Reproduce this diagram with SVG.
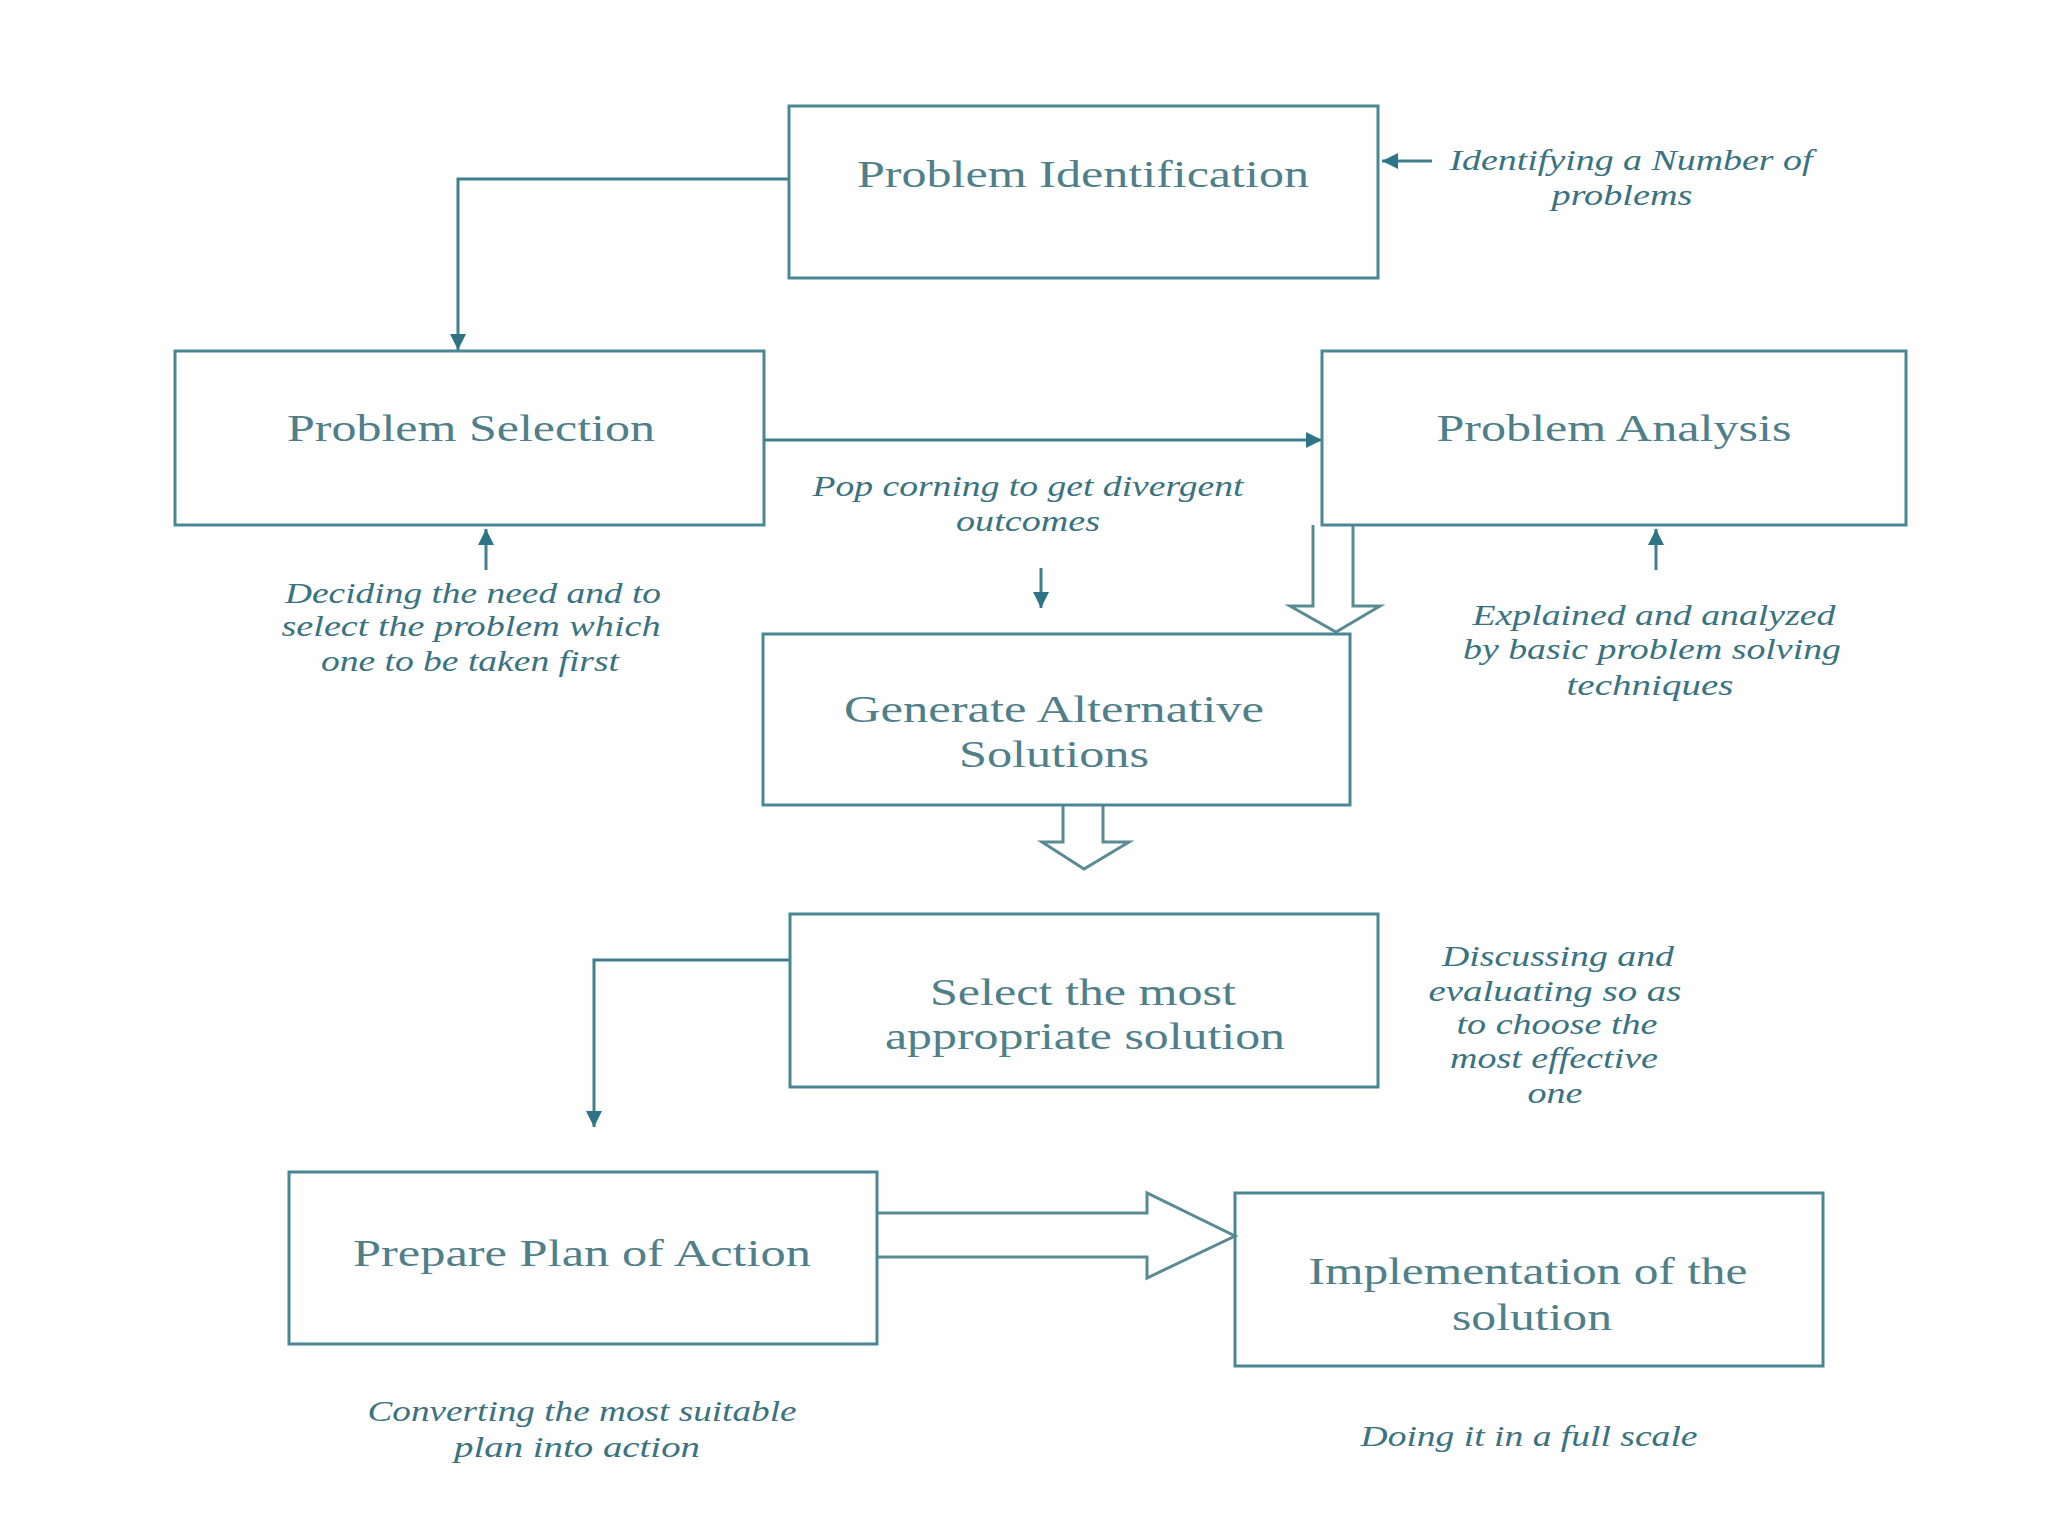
<svg xmlns="http://www.w3.org/2000/svg" width="2048" height="1536" viewBox="0 0 2048 1536">
<style>
.box{fill:none;stroke:#4a8794;stroke-width:3}
.ln{fill:none;stroke:#3f7f8e;stroke-width:3}
.blk{fill:#ffffff;stroke:#5a8b94;stroke-width:3;stroke-linejoin:miter}
.t{font-family:"Liberation Serif","Times New Roman",serif;font-size:38px;fill:#4f7f89;text-anchor:middle}
.l{font-family:"Liberation Serif","Times New Roman",serif;font-style:italic;font-size:29px;fill:#3a7380;text-anchor:middle}
</style>
<defs>
<marker id="ah" markerUnits="userSpaceOnUse" markerWidth="18" markerHeight="16" refX="16" refY="8" orient="auto">
<path d="M0,0 L16,8 L0,16 Z" fill="#2f7486"/>
</marker>
</defs>
<rect width="2048" height="1536" fill="#fefefe"/>
<g id="connectors">
<path class="ln" d="M789,179 H458 V350" marker-end="url(#ah)"/>
<path class="ln" d="M764,440 H1322" marker-end="url(#ah)"/>
<path class="ln" d="M1432,161 H1382" marker-end="url(#ah)"/>
<path class="ln" d="M486,570 V529" marker-end="url(#ah)"/>
<path class="ln" d="M1041,568 V608" marker-end="url(#ah)"/>
<path class="ln" d="M1656,570 V529" marker-end="url(#ah)"/>
<path class="ln" d="M790,960 H594 V1127" marker-end="url(#ah)"/>
<path class="blk" d="M1313,525 V606 H1290 L1336,632 L1380,606 H1353 V525"/>
<path class="blk" d="M1063,805 V842 H1042 L1084,869 L1129,842 H1103 V805"/>
<path class="blk" d="M877,1213 H1147 V1193 L1235,1236 L1147,1278 V1257 H877"/>
</g>
<g id="n1"><rect class="box" x="789" y="106" width="589" height="172"/><text class="t" x="1083" y="187" textLength="452" lengthAdjust="spacingAndGlyphs">Problem Identification</text></g>
<g id="n2"><rect class="box" x="175" y="351" width="589" height="174"/><text class="t" x="471" y="441" textLength="368" lengthAdjust="spacingAndGlyphs">Problem Selection</text></g>
<g id="n3"><rect class="box" x="1322" y="351" width="584" height="174"/><text class="t" x="1614" y="441" textLength="355" lengthAdjust="spacingAndGlyphs">Problem Analysis</text></g>
<g id="n4"><rect class="box" x="763" y="634" width="587" height="171"/><text class="t" x="1054" y="722" textLength="420" lengthAdjust="spacingAndGlyphs">Generate Alternative</text><text class="t" x="1054" y="767" textLength="190" lengthAdjust="spacingAndGlyphs">Solutions</text></g>
<g id="n5"><rect class="box" x="790" y="914" width="588" height="173"/><text class="t" x="1083" y="1005" textLength="306" lengthAdjust="spacingAndGlyphs">Select the most</text><text class="t" x="1085" y="1049" textLength="400" lengthAdjust="spacingAndGlyphs">appropriate solution</text></g>
<g id="n6"><rect class="box" x="289" y="1172" width="588" height="172"/><text class="t" x="582" y="1266" textLength="458" lengthAdjust="spacingAndGlyphs">Prepare Plan of Action</text></g>
<g id="n7"><rect class="box" x="1235" y="1193" width="588" height="173"/><text class="t" x="1528" y="1284" textLength="439" lengthAdjust="spacingAndGlyphs">Implementation of the</text><text class="t" x="1532" y="1330" textLength="160" lengthAdjust="spacingAndGlyphs">solution</text></g>
<g id="labels">
<text class="l" x="1631" y="170" textLength="363" lengthAdjust="spacingAndGlyphs">Identifying a Number of</text>
<text class="l" x="1622" y="205" textLength="141" lengthAdjust="spacingAndGlyphs">problems</text>
<text class="l" x="1028" y="496" textLength="431" lengthAdjust="spacingAndGlyphs">Pop corning to get divergent</text>
<text class="l" x="1028" y="531" textLength="144" lengthAdjust="spacingAndGlyphs">outcomes</text>
<text class="l" x="473" y="603" textLength="376" lengthAdjust="spacingAndGlyphs">Deciding the need and to</text>
<text class="l" x="471" y="636" textLength="379" lengthAdjust="spacingAndGlyphs">select the problem which</text>
<text class="l" x="470" y="671" textLength="298" lengthAdjust="spacingAndGlyphs">one to be taken first</text>
<text class="l" x="1654" y="625" textLength="363" lengthAdjust="spacingAndGlyphs">Explained and analyzed</text>
<text class="l" x="1652" y="659" textLength="378" lengthAdjust="spacingAndGlyphs">by basic problem solving</text>
<text class="l" x="1650" y="695" textLength="167" lengthAdjust="spacingAndGlyphs">techniques</text>
<text class="l" x="1558" y="966" textLength="232" lengthAdjust="spacingAndGlyphs">Discussing and</text>
<text class="l" x="1555" y="1001" textLength="253" lengthAdjust="spacingAndGlyphs">evaluating so as</text>
<text class="l" x="1557" y="1034" textLength="201" lengthAdjust="spacingAndGlyphs">to choose the</text>
<text class="l" x="1554" y="1068" textLength="208" lengthAdjust="spacingAndGlyphs">most effective</text>
<text class="l" x="1555" y="1103" textLength="55" lengthAdjust="spacingAndGlyphs">one</text>
<text class="l" x="582" y="1421" textLength="429" lengthAdjust="spacingAndGlyphs">Converting the most suitable</text>
<text class="l" x="577" y="1457" textLength="246" lengthAdjust="spacingAndGlyphs">plan into action</text>
<text class="l" x="1529" y="1446" textLength="337" lengthAdjust="spacingAndGlyphs">Doing it in a full scale</text>
</g>
</svg>
